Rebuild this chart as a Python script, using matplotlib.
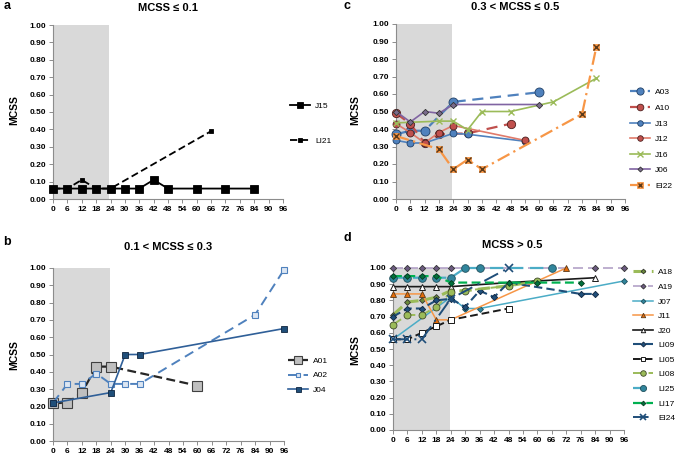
import matplotlib
matplotlib.use("Agg")
import matplotlib.pyplot as plt

# ---------------- data ----------------
x_ticks = [0, 6, 12, 18, 24, 30, 36, 42, 48, 54, 60, 66, 72, 78, 84, 90, 96]
x_tick_labels = ["0", "6", "12", "18", "24", "30", "36", "42", "48", "54", "60", "66", "72", "76", "84", "90", "96"]
y_ticks = [0.0, 0.1, 0.2, 0.3, 0.4, 0.5, 0.6, 0.7, 0.8, 0.9, 1.0]

# panel a
a_J15_x = [0, 6, 12, 18, 24, 30, 36, 42, 48, 60, 72, 84]
a_J15_y = [0.06, 0.06, 0.06, 0.06, 0.06, 0.06, 0.06, 0.11, 0.06, 0.06, 0.06, 0.06]
a_LI21_x = [0, 6, 12, 18, 24, 66]
a_LI21_y = [0.06, 0.06, 0.11, 0.06, 0.06, 0.39]

# panel b
b_A01_x = [0, 6, 12, 18, 24, 60]
b_A01_y = [0.22, 0.22, 0.28, 0.43, 0.43, 0.32]
b_A02_x = [0, 6, 12, 18, 24, 30, 36, 84, 96]
b_A02_y = [0.22, 0.33, 0.33, 0.39, 0.33, 0.33, 0.33, 0.73, 0.99]
b_J04_x = [0, 24, 30, 36, 96]
b_J04_y = [0.22, 0.28, 0.50, 0.50, 0.65]

# panel c
c_A03_x = [0, 6, 12, 24, 60]
c_A03_y = [0.37, 0.39, 0.39, 0.555, 0.61]
c_A10_x = [0, 6, 12, 18, 30, 48]
c_A10_y = [0.49, 0.43, 0.32, 0.37, 0.375, 0.43]
c_J13_x = [0, 6, 12, 24, 30, 54]
c_J13_y = [0.335, 0.32, 0.32, 0.375, 0.37, 0.33]
c_J12_x = [0, 6, 12, 18, 24, 54]
c_J12_y = [0.43, 0.38, 0.32, 0.38, 0.42, 0.335]
c_J16_x = [0, 18, 24, 30, 36, 48, 66, 84]
c_J16_y = [0.435, 0.445, 0.445, 0.395, 0.50, 0.50, 0.555, 0.69]
c_J06_x = [0, 6, 12, 18, 24, 60]
c_J06_y = [0.50, 0.44, 0.50, 0.49, 0.54, 0.54]
c_EI22_x = [0, 18, 24, 30, 36, 78, 84]
c_EI22_y = [0.36, 0.285, 0.17, 0.225, 0.17, 0.485, 0.87]

# panel d
d_A18_x = [0, 6, 12, 18, 24, 30, 48, 60]
d_A18_y = [0.71, 0.79, 0.80, 0.82, 0.86, 0.86, 0.89, 0.92]
d_A19_x = [0, 6, 12, 18, 24, 84, 96]
d_A19_y = [1.00, 1.00, 1.00, 1.00, 1.00, 1.00, 1.00]
d_J07_x = [0, 24, 30, 36, 96]
d_J07_y = [0.56, 0.82, 0.75, 0.75, 0.92]
d_J11_x = [0, 6, 12, 18, 24, 72]
d_J11_y = [0.84, 0.84, 0.84, 0.68, 0.68, 1.00]
d_J20_x = [0, 6, 12, 18, 24, 48, 84]
d_J20_y = [0.885, 0.885, 0.885, 0.885, 0.885, 0.91, 0.94]
d_LI09_x = [0, 6, 12, 18, 24, 30, 36, 42, 48, 78, 84]
d_LI09_y = [0.70, 0.75, 0.75, 0.80, 0.81, 0.76, 0.86, 0.82, 0.91, 0.84, 0.84]
d_LI05_x = [0, 6, 12, 18, 24, 48]
d_LI05_y = [0.56, 0.56, 0.60, 0.64, 0.68, 0.75]
d_LI08_x = [0, 6, 12, 18, 24, 30, 48, 60]
d_LI08_y = [0.65, 0.71, 0.71, 0.76, 0.85, 0.86, 0.89, 0.92]
d_LI25_x = [0, 6, 12, 18, 24, 30, 36, 66]
d_LI25_y = [0.94, 0.94, 0.94, 0.94, 0.94, 1.00, 1.00, 1.00]
d_LI17_x = [0, 6, 12, 18, 24, 48, 60, 78]
d_LI17_y = [0.95, 0.95, 0.95, 0.95, 0.91, 0.91, 0.91, 0.91]
d_EI24_x = [0, 6, 12, 24, 48]
d_EI24_y = [0.56, 0.56, 0.56, 0.81, 1.00]

# ---------------- figure ----------------
FW, FH = 685, 463
fig = plt.figure(figsize=(FW / 100, FH / 100), dpi=100)
FONT = ["Liberation Sans", "DejaVu Sans"]
plt.rcParams["font.family"] = FONT


def px(l, t, r, b):
    return [l / FW, 1 - b / FH, (r - l) / FW, (b - t) / FH]


def setup(ax, title, tx, ty):
    ax.axvspan(0, 23.5, color="#d9d9d9", zorder=0, lw=0)
    ax.set_xlim(0, 96)
    ax.set_ylim(0, 1)
    ax.set_xticks(x_ticks)
    ax.set_xticklabels(x_tick_labels)
    ax.set_yticks(y_ticks)
    ax.set_yticklabels(["%.2f" % v for v in y_ticks])
    for s in ("top", "right"):
        ax.spines[s].set_visible(False)
    for s in ("left", "bottom"):
        ax.spines[s].set_color("#8c8c8c")
        ax.spines[s].set_linewidth(0.8)
    ax.tick_params(length=3, width=0.7, color="#8c8c8c", labelsize=6, pad=2)
    for lab in ax.get_xticklabels() + ax.get_yticklabels():
        lab.set_fontweight("bold")
    fig.text(tx / FW, 1 - ty / FH, title, ha="center", va="center",
             fontsize=8, fontweight="bold")


def ylab(xp, yp):
    fig.text(xp / FW, 1 - yp / FH, "MCSS", rotation=90, ha="center", va="center",
             fontsize=7.5, fontweight="bold")


def leg(ax, handles, labels, xp, yp, spacing):
    ax.legend(handles, labels, loc="upper left",
              bbox_to_anchor=(xp / FW, 1 - yp / FH), bbox_transform=fig.transFigure,
              frameon=False, fontsize=6, borderpad=0, borderaxespad=0,
              handlelength=2.4, handletextpad=0.6, labelspacing=spacing,
              markerscale=0.8)


def plot(ax, x, y, color, ls="-", lw=1.3, marker="o", ms=5, mfc=None, mec="#333333", mew=0.6, z=3):
    ln, = ax.plot(x, y, color=color, ls=ls, lw=lw, marker=marker, ms=ms,
                  mfc=mfc if mfc is not None else color, mec=mec, mew=mew,
                  clip_on=False, zorder=z)
    return ln


# ---- panel a ----
axa = fig.add_axes(px(53, 25, 283, 199))
setup(axa, "MCSS \u2264 0.1", 168, 8)
h1 = plot(axa, a_J15_x, a_J15_y, "black", "-", 1.3, "s", 5.5, "black", "black")
h2 = plot(axa, a_LI21_x, a_LI21_y, "black", (0, (4, 2)), 1.3, "s", 3, "black", "black")
leg(axa, [h1, h2], ["J15", "LI21"], 290, 102, 3.3)
ylab(14, 110)
fig.text(4 / FW, 1 - 6 / FH, "a", fontsize=9, fontweight="bold", va="center")

# ---- panel c ----
axc = fig.add_axes(px(396, 24, 625, 199))
setup(axc, "0.3 < MCSS \u2264 0.5", 515, 7)
blue = "#4f81bd"
red = "#c0504d"
hc = []
hc.append(plot(axc, c_A03_x, c_A03_y, blue, (0, (5, 3)), 1.6, "o", 6.5, blue, "#1f3f66"))
hc.append(plot(axc, c_A10_x, c_A10_y, red, (0, (5, 3)), 1.6, "o", 6, red, "#4d1f1e"))
hc.append(plot(axc, c_J13_x, c_J13_y, blue, "-", 1.2, "o", 5, blue, "#1f3f66"))
hc.append(plot(axc, c_J12_x, c_J12_y, "#e07b6b", "-", 1.2, "o", 5, red, "#4d1f1e"))
hc.append(plot(axc, c_J16_x, c_J16_y, "#9bbb59", "-", 1.2, "x", 5, "#9bbb59", "#9bbb59", 1.0))
hc.append(plot(axc, c_J06_x, c_J06_y, "#8064a2", "-", 1.2, "D", 3.2, "#7a6b8c", "#333333"))
e1 = plot(axc, c_EI22_x, c_EI22_y, "#f79646", (0, (6, 2, 1, 2)), 1.6, "s", 5, "#f79646", "#f79646")
e2, = axc.plot(c_EI22_x, c_EI22_y, ls="none", marker="x", ms=4, mec="#5a3a1a", mew=1.0,
               clip_on=False, zorder=4)
hc.append((e1, e2))
leg(axc, hc, ["A03", "A10", "J13", "J12", "J16", "J06", "EI22"], 630, 88.5, 0.93)
ylab(355, 110)
fig.text(343 / FW, 1 - 6 / FH, "c", fontsize=9, fontweight="bold", va="center")

# ---- panel b ----
axb = fig.add_axes(px(53, 268, 284, 441))
setup(axb, "0.1 < MCSS \u2264 0.3", 168, 247)
hb = []
hb.append(plot(axb, b_A01_x, b_A01_y, "#262626", (0, (4, 2)), 1.6, "s", 6.5, "#bfbfbf", "#404040", 0.8))
hb.append(plot(axb, b_A02_x, b_A02_y, "#4f81bd", (0, (5, 3)), 1.4, "s", 4.2, "#dce6f2", "#4f81bd", 0.8))
hb.append(plot(axb, b_J04_x, b_J04_y, "#2f5f98", "-", 1.2, "s", 4.5, "#1f4e79", "#10253f", 0.6))
leg(axb, hb, ["A01", "A02", "J04"], 288, 357.5, 0.75)
ylab(14, 355)
fig.text(3 / FW, 1 - 242 / FH, "b", fontsize=9, fontweight="bold", va="center")

# ---- panel d ----
axd = fig.add_axes(px(393, 268, 624, 430))
setup(axd, "MCSS > 0.5", 512, 245)
hd = []
hd.append(plot(axd, d_A18_x, d_A18_y, "#9bbb59", (0, (4, 2)), 2.2, "D", 3, "#6b8a3a", "#333333"))
hd.append(plot(axd, d_A19_x, d_A19_y, "#b3a2c7", (0, (6, 3)), 1.2, "D", 3.2, "#6b5a80", "#333333"))
hd.append(plot(axd, d_J07_x, d_J07_y, "#4bacc6", "-", 1.1, "D", 3, "#31859c", "#1f4f5c"))
hd.append(plot(axd, d_J11_x, d_J11_y, "#f79646", "-", 1.1, "^", 4, "#e46c0a", "#5a3a1a"))
hd.append(plot(axd, d_J20_x, d_J20_y, "#1a1a1a", "-", 1.2, "^", 4, "white", "#1a1a1a", 0.7))
hd.append(plot(axd, d_LI09_x, d_LI09_y, "#1f4e79", (0, (4, 2)), 1.5, "D", 3.2, "#1f4e79", "#10253f"))
hd.append(plot(axd, d_LI05_x, d_LI05_y, "#1a1a1a", (0, (4, 2)), 1.4, "s", 4.3, "white", "#1a1a1a", 0.7))
hd.append(plot(axd, d_LI08_x, d_LI08_y, "#9bbb59", (0, (5, 3)), 1.4, "o", 5, "#9bbb59", "#404a2a"))
hd.append(plot(axd, d_LI25_x, d_LI25_y, "#4bacc6", (0, (6, 3)), 1.6, "o", 5.5, "#31859c", "#1f4f5c"))
hd.append(plot(axd, d_LI17_x, d_LI17_y, "#00b050", (0, (4, 2)), 1.6, "D", 3, "#00703c", "#0a3a1f"))
hd.append(plot(axd, d_EI24_x, d_EI24_y, "#1f4e79", (0, (8, 3, 1, 3)), 1.4, "x", 6, "#1f4e79", "#1f4e79", 1.2))
leg(axd, hd, ["A18", "A19", "J07", "J11", "J20", "LI09", "LI05", "LI08", "LI25", "LI17", "EI24"],
    633, 268.5, 0.81)
ylab(355, 350)
fig.text(343 / FW, 1 - 238 / FH, "d", fontsize=9, fontweight="bold", va="center")

fig.savefig("out.png", dpi=100)
